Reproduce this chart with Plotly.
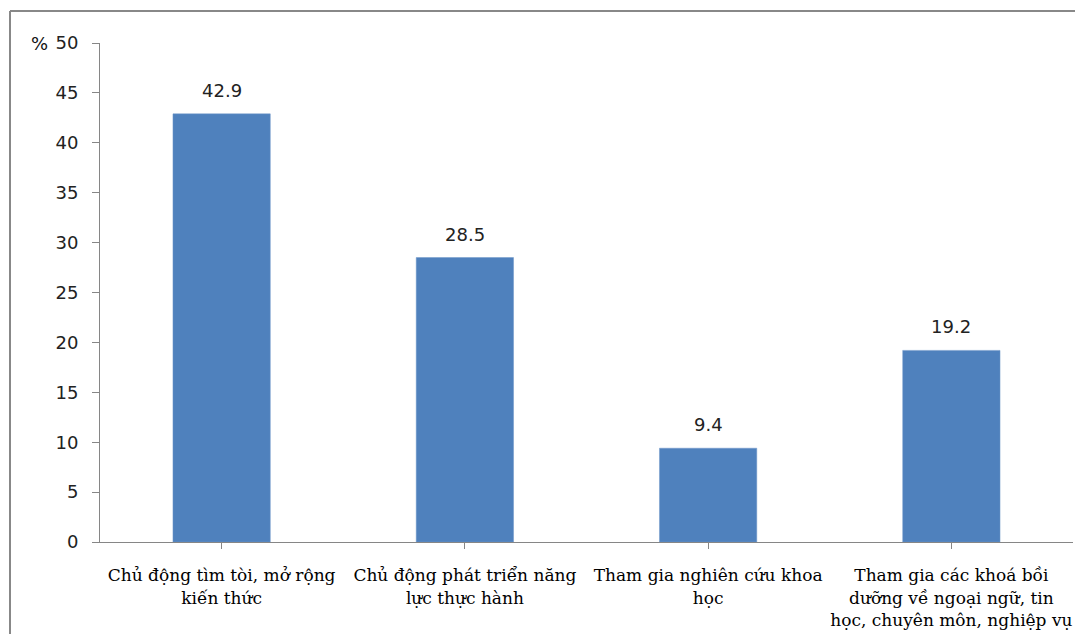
import plotly.graph_objects as go

categories = [
    "Chủ động tìm tòi, mở rộng<br>kiến thức",
    "Chủ động phát triển năng<br>lực thực hành",
    "Tham gia nghiên cứu khoa<br>học",
    "Tham gia các khoá bồi<br>dưỡng về ngoại ngữ, tin<br>học, chuyên môn, nghiệp vụ",
]
values = [42.9, 28.5, 9.4, 19.2]
value_labels = ["42.9", "28.5", "9.4", "19.2"]
y_ticks = [0, 5, 10, 15, 20, 25, 30, 35, 40, 45, 50]

xs = list(range(len(categories)))

fig = go.Figure()
fig.add_trace(go.Bar(
    x=xs, y=values, width=0.4,
    marker=dict(color="#4F81BD", line=dict(color="#6F96C8", width=0.5)),
    hoverinfo="skip",
))

for x, v, t in zip(xs, values, value_labels):
    fig.add_annotation(x=x, y=v, text=t, showarrow=False, yanchor="bottom",
                       yshift=11, font=dict(family="DejaVu Sans", size=18, color="#222"))

fig.add_annotation(xref="paper", yref="paper", x=-0.062, y=1.0, text="%",
                   showarrow=False, xanchor="center", yanchor="middle",
                   font=dict(family="DejaVu Sans", size=18, color="#111"))

# outer chart border (left and top)
fig.add_shape(type="line", xref="paper", yref="paper", x0=-0.0925, x1=1.2,
              y0=1.064, y1=1.064, line=dict(color="#888888", width=2))
fig.add_shape(type="line", xref="paper", yref="paper", x0=-0.0925, x1=-0.0925,
              y0=-0.5, y1=1.064, line=dict(color="#888888", width=2))

fig.update_layout(
    width=1083, height=634,
    margin=dict(l=92, r=18, t=35, b=100, autoexpand=False),
    paper_bgcolor="white", plot_bgcolor="white",
    showlegend=False,
    xaxis=dict(
        range=[-0.5, 3.5], tickmode="array", tickvals=xs, ticktext=categories,
        tickson="boundaries", ticks="outside", ticklen=6, tickcolor="#868686",
        showline=True, linecolor="#868686", linewidth=1, showgrid=False,
        tickfont=dict(family="DejaVu Serif", size=17, color="#000"),
        ticklabelstandoff=12, zeroline=False, automargin=False,
    ),
    yaxis=dict(
        range=[0, 50], tickmode="array", tickvals=y_ticks,
        ticks="outside", ticklen=7, tickcolor="#868686",
        showline=True, linecolor="#868686", linewidth=1, showgrid=False,
        tickfont=dict(family="DejaVu Sans", size=18, color="#222"),
        ticklabelstandoff=10, zeroline=False, automargin=False,
    ),
)

fig.write_html("out.html")
